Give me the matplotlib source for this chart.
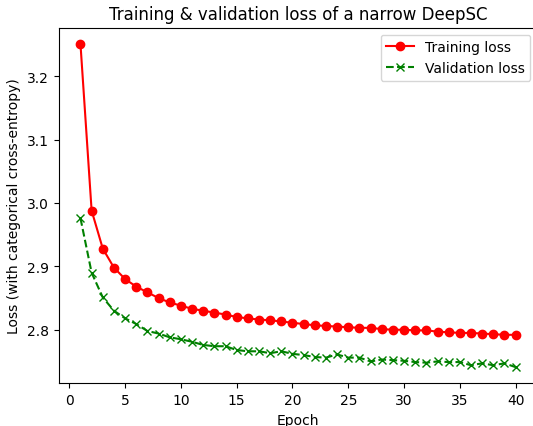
import matplotlib
matplotlib.use("Agg")
import matplotlib.pyplot as plt

epochs = list(range(1, 41))
train_loss = [3.251, 2.988, 2.928, 2.898, 2.880, 2.868, 2.859, 2.850, 2.843, 2.838,
              2.833, 2.830, 2.827, 2.824, 2.820, 2.818, 2.816, 2.815, 2.813, 2.811,
              2.809, 2.807, 2.806, 2.805, 2.804, 2.803, 2.803, 2.801, 2.800, 2.800,
              2.799, 2.799, 2.797, 2.796, 2.795, 2.795, 2.794, 2.793, 2.792, 2.792]
val_loss = [2.976, 2.890, 2.851, 2.830, 2.818, 2.809, 2.798, 2.794, 2.788, 2.785,
            2.781, 2.776, 2.774, 2.774, 2.768, 2.766, 2.766, 2.763, 2.766, 2.762,
            2.760, 2.757, 2.756, 2.761, 2.756, 2.756, 2.750, 2.753, 2.752, 2.751,
            2.749, 2.748, 2.750, 2.749, 2.749, 2.744, 2.747, 2.744, 2.747, 2.741]

W, H = 533, 427
fig = plt.figure(figsize=(W / 100, H / 100), dpi=100)
left, right, top, bottom = 58.7, 537.4, 28.7, 384.3
ax = fig.add_axes([left / W, 1 - bottom / H, (right - left) / W, (bottom - top) / H])
ax.plot(epochs, train_loss, 'r-o', label='Training loss')
ax.plot(epochs, val_loss, 'g--x', label='Validation loss')
ax.set_title('Training & validation loss of a narrow DeepSC')
ax.set_xlabel('Epoch')
ax.set_ylabel('Loss (with categorical cross-entropy)')
ax.legend()
fig.savefig('out.png', dpi=100)
